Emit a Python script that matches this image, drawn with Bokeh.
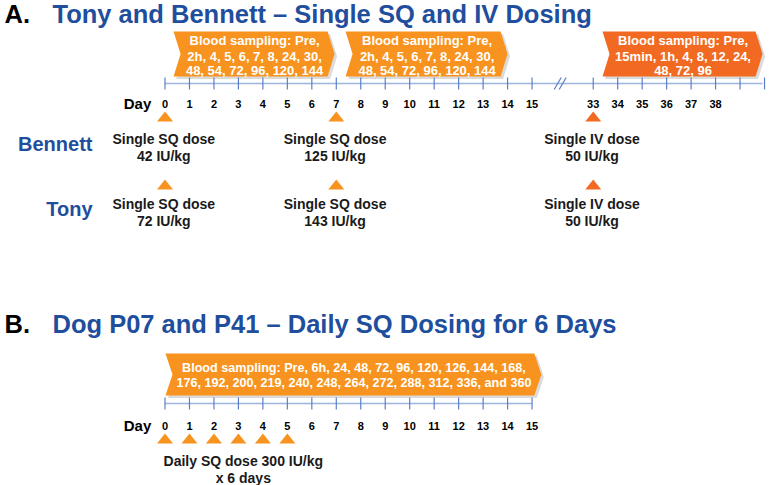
from bokeh.plotting import figure
from bokeh.models import Range1d
from bokeh.core.properties import value
from bokeh.embed import file_html
from bokeh.resources import INLINE

# ---------------- data ----------------
# Panel A: Tony and Bennett
a_tick_days = list(range(0, 16)) + list(range(33, 41))
a_label_days = list(range(0, 16)) + list(range(33, 39))
a_dose_days = [0, 7, 33]
a_dose_routes = ["SQ", "SQ", "IV"]
bennett_doses = [42, 125, 50]
tony_doses = [72, 143, 50]
a_sampling_periods = [(0, 7), (7, 14), (33, 40)]
sampling_sq = ["Pre", "2h", "4", "5", "6", "7", "8", "24", "30",
               "48", "54", "72", "96", "120", "144"]
sampling_iv = ["Pre", "15min", "1h", "4", "8", "12", "24", "48", "72", "96"]

# Panel B: Dog P07 and P41
b_tick_days = list(range(0, 16))
b_dose_days = [0, 1, 2, 3, 4, 5]
b_dose = 300
b_n_days = 6
b_sampling_period = (0, 15)
sampling_b = ["Pre", "6h", "24", "48", "72", "96", "120", "126", "144", "168",
              "176", "192", "200", "219", "240", "248", "264", "272", "288",
              "312", "336", "360"]

# ---------------- layout helpers ----------------
DX = 24.47          # pixels per day unit
X0 = 164.5          # screen x of day 0
BREAK_GAP = 15.5    # compression of days 16..32 in panel A


def pos(d):
    return d - BREAK_GAP if d >= 33 else d


def px(n):
    return n / DX


FONT = value("Liberation Sans")
BLUE = "#1F4E9D"
ORANGE = "#F7931E"
RED_ORANGE = "#F26A21"
AXIS_LINE = "#9DB5E0"
AXIS_TICK = "#5B7FC7"
DARK = "#1A1A1A"

W, H = 770, 485
p = figure(width=W, height=H, output_backend="svg", toolbar_location=None,
           x_range=Range1d((0 - X0) / DX, (W - X0) / DX),
           y_range=Range1d(H, 0),
           x_axis_location=None, y_axis_location=None,
           min_border=0, outline_line_color=None, tools="")
p.grid.visible = False
p.background_fill_color = "white"
p.border_fill_color = "white"


def sampling_lines(times, splits, prefix="Blood sampling: ", use_and=False):
    out, i = [], 0
    for k, n in enumerate(splits):
        chunk = times[i:i + n]
        i += n
        if use_and and i == len(times):
            chunk = chunk[:-1] + ["and " + chunk[-1]]
        s = ", ".join(chunk)
        if i < len(times):
            s += ","
        if k == 0:
            s = prefix + s
        out.append(s)
    return out


def banner(x_left, x_tip, top, bottom, color, lines, line_ys, font_px):
    mid = (top + bottom) / 2
    r = x_tip - px(7)
    xs = [x_left, r, x_tip, r, x_left, x_left + px(7)]
    ys = [top, top, mid, bottom, bottom, mid]
    # soft shadow
    p.patch([x + px(2.5) for x in xs], [y + 2.5 for y in ys],
            fill_color="#7F7F7F", fill_alpha=0.28, line_color=None)
    p.patch(xs, ys, fill_color=color, line_color=None)
    cx = (x_left + px(4) + x_tip - px(3)) / 2
    p.text(x=[cx] * len(lines), y=line_ys, text=lines,
           text_font=FONT, text_font_style="bold", text_font_size=f"{font_px}px",
           text_color="white", text_align="center", text_baseline="middle")


def triangles(days, yc, color, w=16, h=10):
    xs = [[d - px(w / 2), d + px(w / 2), d] for d in days]
    ys = [[yc + h / 2, yc + h / 2, yc - h / 2] for _ in days]
    p.patches(xs, ys, fill_color=color, line_color=None)


def timeline(tick_pos, y, x_start, x_end):
    p.segment(x0=[x_start], y0=[y], x1=[x_end], y1=[y], line_color=AXIS_LINE, line_width=1.5)
    p.segment(x0=tick_pos, y0=[y - 6] * len(tick_pos), x1=tick_pos, y1=[y + 6] * len(tick_pos),
              line_color=AXIS_TICK, line_width=1.2)


def text(xs, ys, labels, size, color=DARK, align="center", baseline="middle"):
    p.text(x=xs, y=ys, text=labels, text_font=FONT, text_font_style="bold",
           text_font_size=f"{size}px", text_color=color, text_align=align,
           text_baseline=baseline)


# ---------------- Panel A ----------------
text([px(4 - X0)], [13], ["A."], 25.5, color="black", align="left")
text([px(52 - X0)], [13], ["Tony and Bennett \u2013 Single SQ and IV Dosing"], 25.5,
     color=BLUE, align="left")

a_lines = [sampling_lines(sampling_sq, [1, 8, 6]),
           sampling_lines(sampling_sq, [1, 8, 6]),
           sampling_lines(sampling_iv, [1, 6, 3])]
a_colors = [ORANGE, ORANGE, RED_ORANGE]
a_insets = [(0.35, 0.07), (0.38, 0.0), (0.38, 0.08)]
for (s, e), lines, col, (il, ir) in zip(a_sampling_periods, a_lines, a_colors, a_insets):
    banner(pos(s) + il, pos(e) - ir, 31, 76, col, lines, [40, 55.5, 70], 13)

a_ticks = [pos(d) for d in a_tick_days]
timeline(a_ticks, 83, pos(0), pos(40) - 0.08)
# axis break marks
brk = (pos(15) + pos(33)) / 2 - 0.1
for off in (-2.5, 2.5):
    p.segment(x0=[brk + px(off - 3.5)], y0=[89], x1=[brk + px(off + 3.5)], y1=[77],
              line_color=AXIS_TICK, line_width=1.2)

text([px(137 - X0)], [103], ["Day"], 15, color="black")
text([pos(d) for d in a_label_days], [103] * len(a_label_days),
     [str(d) for d in a_label_days], 11, color="black")

tri_cols = [RED_ORANGE if r == "IV" else ORANGE for r in a_dose_routes]
for d, c in zip(a_dose_days, tri_cols):
    triangles([pos(d)], 116, c)
    triangles([pos(d)], 184, c)

text([px(92 - X0)], [143], ["Bennett"], 20, color=BLUE, align="right")
text([px(92 - X0)], [208], ["Tony"], 20, color=BLUE, align="right")

for d, r, bd, td in zip(a_dose_days, a_dose_routes, bennett_doses, tony_doses):
    x = pos(d) - 0.05
    text([x, x], [138, 155], [f"Single {r} dose", f"{bd} IU/kg"], 14)
    text([x, x], [203, 220], [f"Single {r} dose", f"{td} IU/kg"], 14)

# ---------------- Panel B ----------------
text([px(4 - X0)], [323.5], ["B."], 25.5, color="black", align="left")
text([px(52 - X0)], [323.5], ["Dog P07 and P41 \u2013 Daily SQ Dosing for 6 Days"], 25.5,
     color=BLUE, align="left")

b_lines = sampling_lines(sampling_b, [10, 12], use_and=True)
banner(b_sampling_period[0] + 0.02, b_sampling_period[1] + 0.38, 353, 395, ORANGE,
       b_lines, [367, 382.5], 12.6)

timeline([float(d) for d in b_tick_days], 403, 0, 15)
text([px(137 - X0)], [425], ["Day"], 15, color="black")
text([float(d) for d in b_tick_days], [425] * len(b_tick_days),
     [str(d) for d in b_tick_days], 11, color="black")

triangles([float(d) for d in b_dose_days], 438, ORANGE)
cx_b = 3.2
text([cx_b, cx_b], [460, 477], [f"Daily SQ dose {b_dose} IU/kg", f"x {b_n_days} days"], 14)

open("out.html", "w").write(file_html(p, INLINE))
